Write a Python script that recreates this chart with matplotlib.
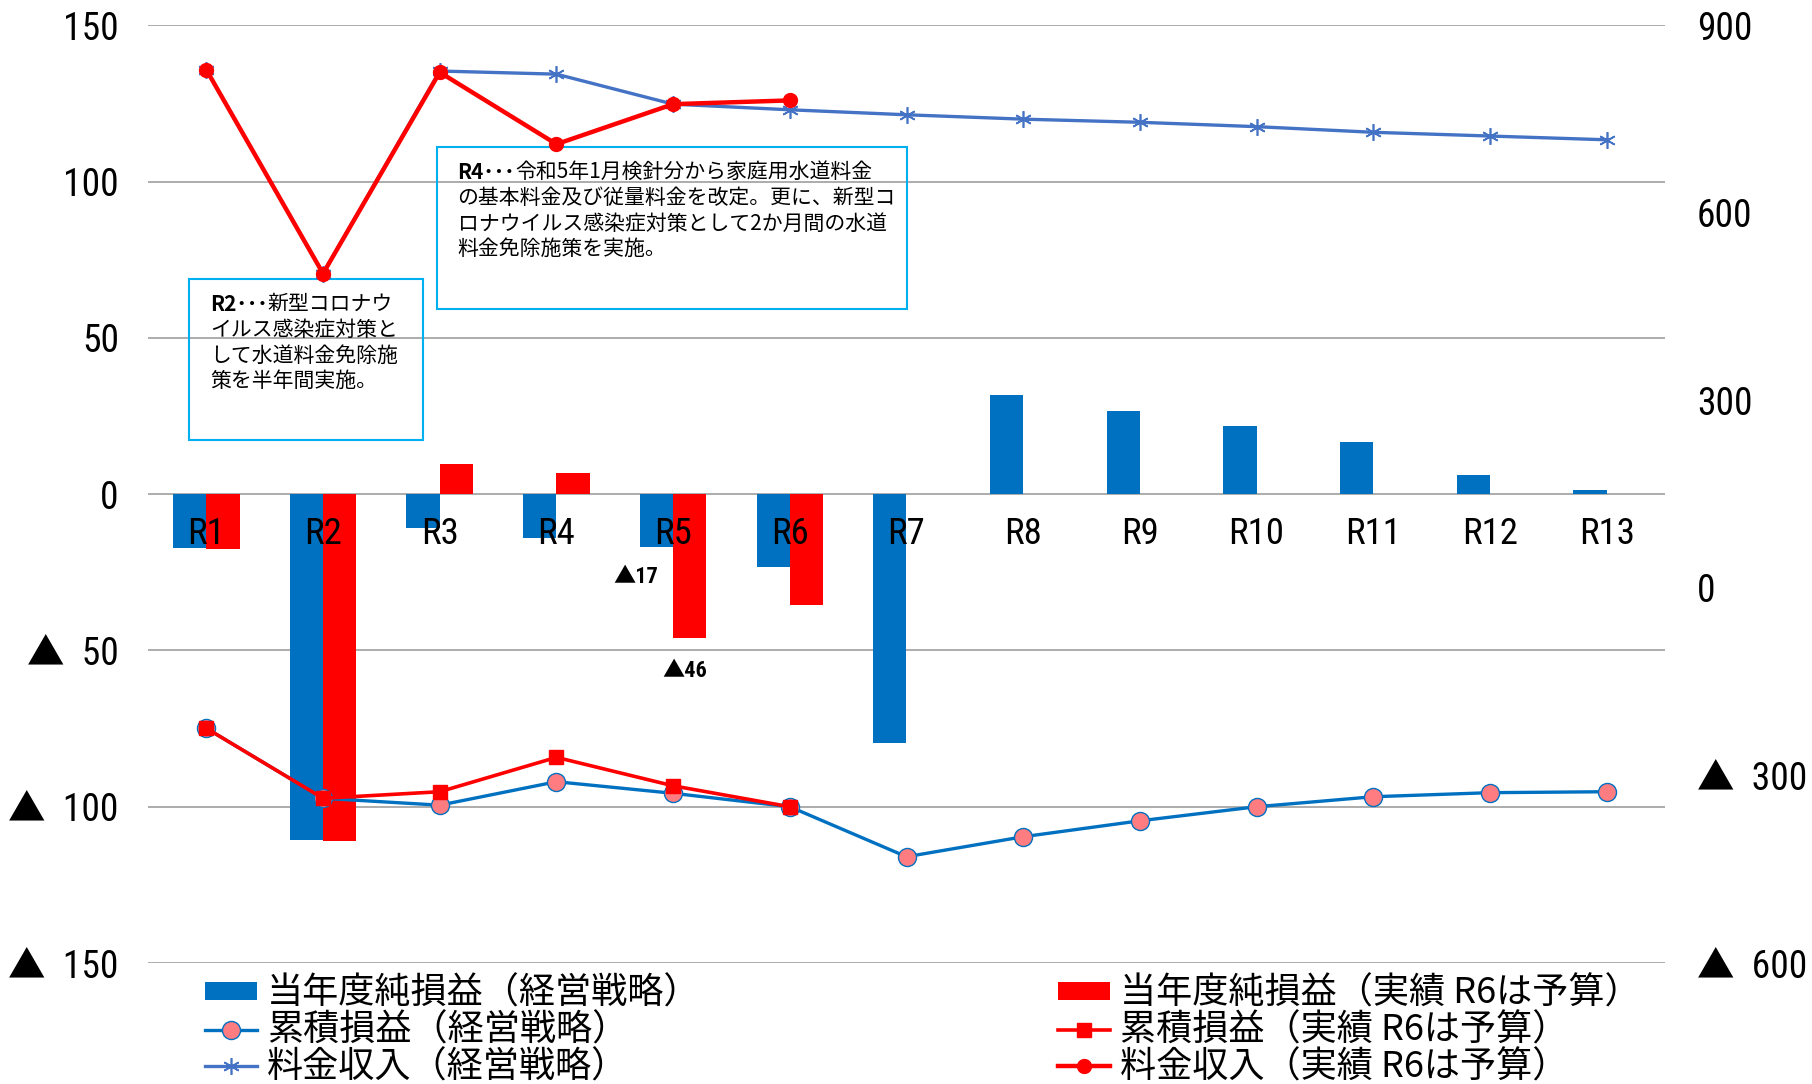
import numpy as np
import matplotlib.pyplot as plt
from matplotlib.patches import Rectangle

plt.rcParams['font.family'] = ['Noto Sans CJK JP', 'DejaVu Sans']
num_font = ['Roboto Condensed', 'Noto Sans CJK JP', 'DejaVu Sans']

# --- data (left axis: 純損益・累積損益, right axis: 料金収入) ---
categories = ['R1', 'R2', 'R3', 'R4', 'R5', 'R6', 'R7',
              'R8', 'R9', 'R10', 'R11', 'R12', 'R13']
net_plan = [-17.2, -110.7, -10.7, -14.0, -17.0, -23.3, -79.7,
            31.9, 26.6, 21.7, 16.8, 6.2, 1.5]
net_actual = [-17.5, -110.9, 9.6, 6.9, -46.0, -35.5]
cum_plan = [-74.9, -97.3, -99.5, -92.0, -95.7, -100.0, -116.0,
            -109.6, -104.5, -100.0, -96.8, -95.5, -95.2]
cum_actual = [-74.9, -97.3, -95.2, -84.2, -93.3, -100.0]
rev_plan = [829, 503, 827, 822, 774, 765, 757, 750, 745, 738, 729, 723, 717]
rev_actual = [829, 503, 825, 710, 774, 780]
labels = ['当年度純損益（経営戦略）', '累積損益（経営戦略）', '料金収入（経営戦略）',
          '当年度純損益（実績 R6は予算）', '累積損益（実績 R6は予算）', '料金収入（実績 R6は予算）']
left_ticks = [-150, -100, -50, 0, 50, 100, 150]
right_ticks = [-600, -300, 0, 300, 600, 900]


def fmt(v):
    if v < 0:
        return '▲  {:d}'.format(-v)
    return '{:d}'.format(v)


x = np.arange(len(categories))
n_act = len(net_actual)
w = 0.285

fig = plt.figure(figsize=(18.12, 10.84), dpi=100)
ax = fig.add_axes([148 / 1812, 1 - 963 / 1084, 1517 / 1812, (963 - 25.4) / 1084])
ax2 = ax.twinx()

ax.set_axisbelow(True)
ax.grid(axis='y', color='#A6A6A6', lw=1.3)
bars_plan = ax.bar(x - w / 2, net_plan, w, color='#0070C0', zorder=2)
bars_act = ax.bar(x[:n_act] + w / 2, net_actual, w, color='#FF0000', zorder=2)
line_cum_plan, = ax.plot(x, cum_plan, color='#0070C0', lw=2.4, marker='o', ms=13,
                         mfc='#FF7C80', mec='#0070C0', mew=1.0, zorder=4)
line_cum_act, = ax.plot(x[:n_act], cum_actual, color='#FF0000', lw=2.6, marker='s',
                        ms=10.5, zorder=5)
line_rev_plan, = ax2.plot(x, rev_plan, color='#4472C4', lw=2.4, marker=(6, 2, 0),
                          ms=12, mew=1.2, zorder=3)
line_rev_act, = ax2.plot(x[:n_act], rev_actual, color='#FF0000', lw=3.2, marker='o',
                         ms=10, zorder=4)

ax.set_xlim(-0.5, len(categories) - 0.5)
ax.set_ylim(-150, 150)
ax2.set_ylim(-600, 900)
ax.set_xticks([])
ax.set_yticks(left_ticks, [fmt(v) for v in left_ticks], fontsize=27, family=num_font)
ax2.set_yticks(right_ticks, [fmt(v) for v in right_ticks], fontsize=27, family=num_font)
ax.tick_params(axis='y', length=0, pad=21)
ax2.tick_params(axis='y', length=0, pad=23)
for a in (ax, ax2):
    for s in a.spines.values():
        s.set_visible(False)

# category labels sit just under the zero line, above the bars
for i, c in enumerate(categories):
    ax.annotate(c, xy=(i, 0), xytext=(0, -39.5), textcoords='offset pixels',
                ha='center', va='center', fontsize=26.5, family=num_font, zorder=6)

# data labels for R5
ax.annotate('▲{:d}'.format(int(round(-net_plan[4]))), xy=(4 - w / 2, net_plan[4]),
            xytext=(-21, -30), textcoords='offset pixels', ha='center', va='center',
            fontsize=16, fontweight='bold', family=num_font, zorder=6)
ax.annotate('▲{:d}'.format(int(round(-net_actual[4]))), xy=(4 + w / 2, net_actual[4]),
            xytext=(-5, -33), textcoords='offset pixels', ha='center', va='center',
            fontsize=16, fontweight='bold', family=num_font, zorder=6)

# note boxes
notes = [
    ((-0.15, 17.4, 2.003, 51.6), (0.031, 58.6), 'R2･･･',
     ['新型コロナウ', 'イルス感染症対策と', 'して水道料金免除施', '策を半年間実施。']),
    ((1.978, 59.3, 4.026, 51.9), (2.153, 100.8), 'R4･･･',
     ['令和5年1月検針分から家庭用水道料金', 'の基本料金及び従量料金を改定。更に、新型コ',
      'ロナウイルス感染症対策として2か月間の水道', '料金免除施策を実施。']),
]
for (bx, by, bw, bh), (tx, ty), head, lines in notes:
    ax.add_patch(Rectangle((bx, by), bw, bh, fill=False, ec='#00B0F0', lw=1.5, zorder=6))
    t0 = ax.text(tx, ty, head, fontsize=15, fontweight='bold', va='baseline', zorder=7)
    ax.annotate(lines[0], xy=(1, 0), xycoords=t0, va='bottom', ha='left',
                fontsize=15, zorder=7)
    for k, ln in enumerate(lines[1:], start=1):
        ax.annotate(ln, xy=(tx, ty), xytext=(0, -25.2 * k), textcoords='offset pixels',
                    va='baseline', ha='left', fontsize=15, zorder=7)

leg_kw = dict(loc='upper left', frameon=False, borderpad=0, borderaxespad=0,
              handlelength=1.44, handleheight=0.42, handletextpad=0.28,
              labelspacing=0.02, prop={'family': ['Noto Sans CJK JP'], 'size': 26})
fig.legend([bars_plan, line_cum_plan, line_rev_plan], labels[:3],
           bbox_to_anchor=(205 / 1812, 1 - 976 / 1084), **leg_kw)
fig.legend([bars_act, line_cum_act, line_rev_act], labels[3:],
           bbox_to_anchor=(1058 / 1812, 1 - 976 / 1084), **leg_kw)

fig.savefig('out.png', dpi=100)
